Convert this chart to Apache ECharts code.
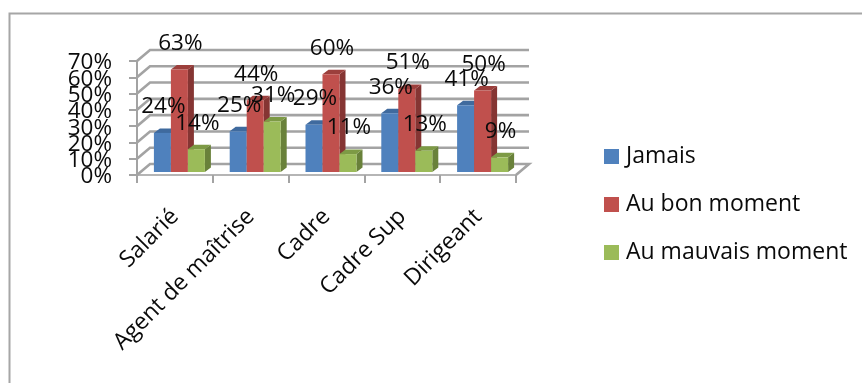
<!DOCTYPE html>
<html>
<head>
<meta charset="utf-8">
<style>html,body{margin:0;padding:0;background:#fff}#c{width:862px;height:383px}</style>
<script src="https://cdn.jsdelivr.net/npm/echarts@6/dist/echarts.min.js"></script>
</head>
<body>
<div id="c"></div>
<script>
const categories = ['Salarié', 'Agent de maîtrise', 'Cadre', 'Cadre Sup', 'Dirigeant'];
const jamais = [24, 25, 29, 36, 41];
const auBonMoment = [63, 44, 60, 51, 50];
const auMauvaisMoment = [14, 31, 11, 13, 9];
const yTicks = [0, 10, 20, 30, 40, 50, 60, 70];

const FONT = '"Open Sans"';
const INK = '#0a0a0a';
const GRID_GRAY = '#a3a3a3';
// Pseudo-3D: depth of the chart box and of each column, in pixels
const WALL_DX = 13, WALL_DY = -11;
const BAR_DX = 6, BAR_DY = -4.5, BAR_W = 17, BAR_LIFT = -3;
const TICK_LABEL_GAP = 25, TICK_LABEL_DROP = 2;

const seriesDefs = [
  { name: 'Jamais', data: jamais, front: '#4f81bd', side: '#38608f', top: '#3f6a9e', offset: -21 },
  { name: 'Au bon moment', data: auBonMoment, front: '#c0504d', side: '#853533', top: '#9c3f3c', offset: -4 },
  { name: 'Au mauvais moment', data: auMauvaisMoment, front: '#9bbb59', side: '#69813a', top: '#7d9a45', offset: 13 }
];

// Back-wall gridlines with their diagonal run back from the value axis
function wallLine(params, api) {
  const v = api.value(0);
  const p = api.coord([0, v]);
  const size = api.size([1, 0]);
  const x0 = p[0] - size[0] / 2;
  const x1 = x0 + size[0] * categories.length;
  const pts = [[x0, p[1]], [x0 + WALL_DX, p[1] + WALL_DY], [x1 + WALL_DX, p[1] + WALL_DY]];
  if (v === 0) pts.push([x1, p[1]]);
  return {
    type: 'polyline',
    shape: { points: pts },
    style: { stroke: GRID_GRAY, lineWidth: 2.6, fill: null }
  };
}

// Value-axis labels: they overlap each other, and all eight have to stay drawn
function tickLabel(params, api) {
  const v = api.value(0);
  const p = api.coord([0, v]);
  const size = api.size([1, 0]);
  return {
    type: 'text',
    style: {
      x: p[0] - size[0] / 2 - TICK_LABEL_GAP,
      y: p[1] + TICK_LABEL_DROP,
      text: v + '%',
      fill: INK,
      font: '22.5px ' + FONT,
      align: 'right',
      verticalAlign: 'middle'
    }
  };
}

function columnRenderer(def) {
  return function (params, api) {
    const top = api.coord([api.value(0), api.value(1)]);
    const base = api.coord([api.value(0), 0]);
    const x0 = top[0] + def.offset, x1 = x0 + BAR_W;
    const yT = top[1] + BAR_LIFT, yB = base[1] + BAR_LIFT;
    return {
      type: 'group',
      children: [
        { type: 'polygon', shape: { points: [[x1, yT], [x1 + BAR_DX, yT + BAR_DY], [x1 + BAR_DX, yB + BAR_DY], [x1, yB]] }, style: { fill: def.side } },
        { type: 'polygon', shape: { points: [[x0, yT], [x0 + BAR_DX, yT + BAR_DY], [x1 + BAR_DX, yT + BAR_DY], [x1, yT]] }, style: { fill: def.top } },
        { type: 'rect', shape: { x: x0, y: yT, width: BAR_W, height: yB - yT }, style: { fill: def.front } }
      ]
    };
  };
}

function labelRenderer(def) {
  return function (params, api) {
    const top = api.coord([api.value(0), api.value(1)]);
    return {
      type: 'text',
      style: {
        x: top[0] + def.offset + BAR_W / 2 + 1,
        y: top[1] + BAR_LIFT - 26,
        text: api.value(1) + '%',
        fill: INK,
        font: '22.5px ' + FONT,
        align: 'center',
        verticalAlign: 'middle'
      }
    };
  };
}

const series = [{
  type: 'custom',
  silent: true,
  clip: false,
  z: 1,
  data: yTicks.map(v => [v]),
  encode: { y: 0 },
  renderItem: wallLine
}, {
  type: 'custom',
  silent: true,
  clip: false,
  z: 4,
  data: yTicks.map(v => [v]),
  encode: { y: 0 },
  renderItem: tickLabel
}];

seriesDefs.forEach(def => {
  series.push({
    name: def.name,
    type: 'custom',
    clip: false,
    z: 2,
    itemStyle: { color: def.front },
    data: def.data.map((v, i) => [i, v]),
    encode: { x: 0, y: 1 },
    renderItem: columnRenderer(def)
  });
});
seriesDefs.forEach(def => {
  series.push({
    type: 'custom',
    clip: false,
    z: 5,
    data: def.data.map((v, i) => [i, v]),
    encode: { x: 0, y: 1 },
    renderItem: labelRenderer(def)
  });
});

const chart = echarts.init(document.getElementById('c'), null, { renderer: 'canvas' });
chart.setOption({
  animation: false,
  backgroundColor: '#fff',
  grid: { left: 137, right: 346, top: 61, bottom: 208 },
  legend: {
    orient: 'vertical',
    left: 599,
    top: 140,
    itemWidth: 15,
    itemHeight: 15,
    itemGap: 25,
    icon: 'rect',
    data: seriesDefs.map(d => d.name),
    textStyle: { fontFamily: FONT, fontSize: 23, color: INK, padding: [0, 0, 0, 2] }
  },
  xAxis: {
    type: 'category',
    data: categories,
    axisLine: { show: true, lineStyle: { color: '#b5b5b5', width: 2 } },
    axisTick: { show: true, length: 8, alignWithLabel: false, lineStyle: { color: GRID_GRAY, width: 2 } },
    axisLabel: { interval: 0, rotate: 45, margin: 38, padding: [3, 0, 0, 0], fontFamily: FONT, fontSize: 23, color: INK },
    splitLine: { show: false }
  },
  yAxis: {
    type: 'value',
    min: 0,
    max: 70,
    interval: 10,
    axisLine: { show: true, lineStyle: { color: GRID_GRAY, width: 2 } },
    axisTick: { show: true, length: 8, lineStyle: { color: GRID_GRAY, width: 2 } },
    axisLabel: { show: false },
    splitLine: { show: false }
  },
  graphic: [{
    type: 'polyline',
    silent: true,
    shape: { points: [[9.5, 383], [9.5, 13.5], [862, 13.5]] },
    style: { stroke: '#a6a6a6', lineWidth: 2, fill: null }
  }],
  series
});
</script>
</body>
</html>
